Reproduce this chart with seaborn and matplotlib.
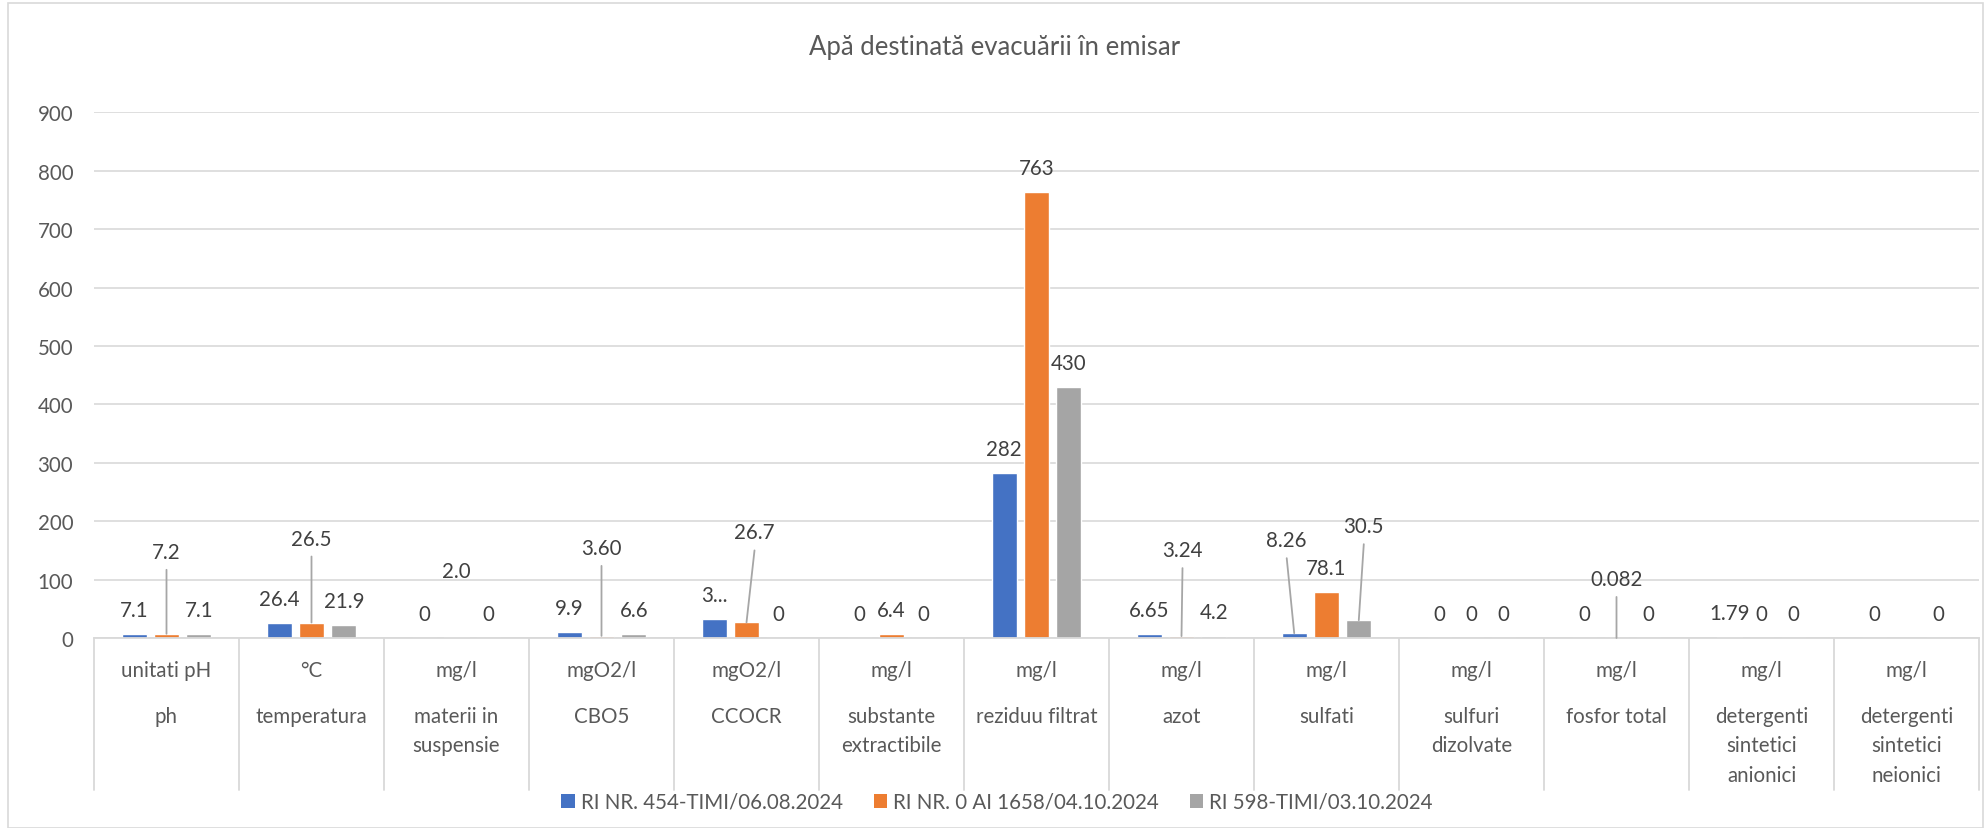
import pandas as pd
import numpy as np
import matplotlib
matplotlib.use("Agg")
import matplotlib.pyplot as plt
import matplotlib.transforms as mtransforms
from matplotlib.patches import Patch, Rectangle
import seaborn as sns

# date
categorii = ["ph", "temperatura", "materii in suspensie", "CBO5", "CCOCR",
             "substante extractibile", "reziduu filtrat", "azot", "sulfati",
             "sulfuri dizolvate", "fosfor total",
             "detergenti sintetici anionici", "detergenti sintetici neionici"]
unitati = ["unitati pH", "°C", "mg/l", "mgO2/l", "mgO2/l", "mg/l", "mg/l",
           "mg/l", "mg/l", "mg/l", "mg/l", "mg/l", "mg/l"]
nume_afisate = ["ph", "temperatura", "materii in\nsuspensie", "CBO5", "CCOCR",
                "substante\nextractibile", "reziduu filtrat", "azot", "sulfati",
                "sulfuri\ndizolvate", "fosfor total",
                "detergenti\nsintetici\nanionici", "detergenti\nsintetici\nneionici"]

serii = ["RI NR. 454-TIMI/06.08.2024", "RI NR. 0 AI 1658/04.10.2024",
         "RI 598-TIMI/03.10.2024"]
val_454 = [7.1, 26.4, 0, 9.9, 32.6, 0, 282, 6.65, 8.26, 0, 0, 1.79, 0]
val_1658 = [7.2, 26.5, 2.0, 3.60, 26.7, 6.4, 763, 3.24, 78.1, 0, 0.082, 0, np.nan]
val_598 = [7.1, 21.9, 0, 6.6, 0, 0, 430, 4.2, 30.5, 0, 0, 0, 0]

et_454 = ["7.1", "26.4", "0", "9.9", "3...", "0", "282", "6.65", "8.26", "0", "0", "1.79", "0"]
et_1658 = ["7.2", "26.5", "2.0", "3.60", "26.7", "6.4", "763", "3.24", "78.1", "0", "0.082", "0", ""]
et_598 = ["7.1", "21.9", "0", "6.6", "0", "0", "430", "4.2", "30.5", "0", "0", "0", "0"]

culori = ["#4472C4", "#ED7D31", "#A5A5A5"]

valori = [val_454, val_1658, val_598]
etichete = [et_454, et_1658, et_598]

rows = []
for s, vals in zip(serii, valori):
    for c, v in zip(categorii, vals):
        if not np.isnan(v):
            rows.append({"Parametru": c, "Serie": s, "Valoare": v})
df = pd.DataFrame(rows)

sns.set_theme(style="white")
plt.rcParams["font.family"] = ["Lato", "DejaVu Sans"]

W, H = 1986, 829
fig = plt.figure(figsize=(W / 100, H / 100), dpi=100)
x0, x1, y0, y1 = 94, 1979, 639, 113.4
ax = fig.add_axes([x0 / W, 1 - y0 / H, (x1 - x0) / W, (y0 - y1) / H])

sns.barplot(data=df, x="Parametru", y="Valoare", hue="Serie", order=categorii,
            hue_order=serii, palette=culori, saturation=1, width=0.668, gap=0.226,
            errorbar=None, legend=False, ax=ax)

ax.set_xlim(-0.5, len(categorii) - 0.5)
ax.set_ylim(0, 900)
ax.set_yticks(range(0, 901, 100))
ax.yaxis.grid(True, color="#D9D9D9", linewidth=1.2)
ax.set_axisbelow(True)
ax.set_xlabel("")
ax.set_ylabel("")
ax.set_xticks([])
for sp in ["top", "right", "left"]:
    ax.spines[sp].set_visible(False)
ax.spines["bottom"].set_color("#D9D9D9")
ax.spines["bottom"].set_linewidth(1.3)

txt_col = "#404040"
lbl_size = 14.8
ax.tick_params(axis="y", length=0, pad=15, labelsize=lbl_size, labelcolor="#595959")

# etichete mutate manual: (serie, categorie) -> (dy px, dx px, linie)
mutate = {(1, 0): (82, 0, True), (1, 1): (84, 0, True), (1, 2): (66, 0, False),
          (1, 3): (88, 0, True), (1, 4): (90, 8, True), (1, 7): (86, 1, True),
          (0, 8): (93, -7.5, True), (2, 8): (94, 5, True), (1, 10): (59, 0, True)}

px = 0.72  # pixeli -> puncte la 100 dpi
for si, cont in enumerate(ax.containers):
    for bar in cont:
        xc = bar.get_x() + bar.get_width() / 2
        ci = int(round(xc))
        v = bar.get_height()
        text = etichete[si][ci]
        if not text:
            continue
        dy, dx, linie = mutate.get((si, ci), (24, 0, False))
        ax.annotate(text, (xc, v), xytext=(dx * px, dy * px), textcoords="offset points",
                    ha="center", va="center", fontsize=lbl_size, color=txt_col,
                    annotation_clip=False)
        if linie:
            ax.annotate("", (xc, v), xytext=(dx * px, (dy - 18) * px),
                        textcoords="offset points", annotation_clip=False,
                        arrowprops=dict(arrowstyle="-", color="#A6A6A6", lw=1.3,
                                        shrinkA=0, shrinkB=0))

# axa de categorii pe doua niveluri
tr = mtransforms.blended_transform_factory(ax.transData, fig.transFigure)
for k in range(len(categorii) + 1):
    ax.plot([k - 0.5, k - 0.5], [1 - 639 / H, 1 - 791 / H], transform=tr,
            color="#D9D9D9", lw=1.3, clip_on=False)
for i in range(len(categorii)):
    ax.text(i, 1 - 671 / H, unitati[i], transform=tr, ha="center", va="center",
            fontsize=lbl_size, color="#595959")
    for j, linie in enumerate(nume_afisate[i].split("\n")):
        ax.text(i, 1 - (717 + 29.5 * j) / H, linie, transform=tr, ha="center",
                va="center", fontsize=lbl_size, color="#595959")

fig.text(995 / W, 1 - 47 / H, "Apă destinată evacuării în emisar", ha="center",
         va="center", fontsize=18.5, color="#595959")

handles = [Patch(facecolor=c, edgecolor="none", label=s) for c, s in zip(culori, serii)]
fig.legend(handles=handles, loc="center", bbox_to_anchor=(997 / W, 1 - 803 / H),
           ncol=3, frameon=False, fontsize=lbl_size, labelcolor="#595959",
           handlelength=0.65, handleheight=0.65, handletextpad=0.3, columnspacing=1.5)

fig.add_artist(Rectangle((8 / W, 0), 1975 / W, (H - 4) / H, transform=fig.transFigure,
                         fill=False, edgecolor="#D9D9D9", lw=1.2))

fig.savefig("out.png", dpi=100)
